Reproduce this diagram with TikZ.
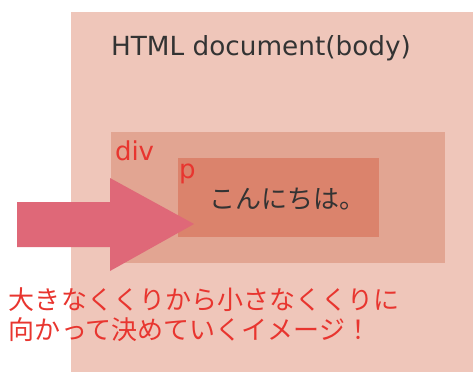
\documentclass[tikz,border=0pt]{standalone}
\usepackage{fontspec}
\setmainfont{DejaVu Sans}
\newfontfamily\cjk{Noto Sans CJK JP}
\usepackage{xcolor}
\definecolor{bodyfill}{HTML}{EFC6BA}
\definecolor{divfill}{HTML}{E2A592}
\definecolor{pfill}{HTML}{DB836C}
\definecolor{arrowfill}{HTML}{DF6878}
\definecolor{tagred}{HTML}{E8352F}
\definecolor{inktext}{HTML}{333333}

\begin{document}
\begin{tikzpicture}[
  x=1pt,y=-1pt,
  every node/.style={inner sep=0pt,outer sep=0pt},
  boxarea/.style={anchor=north west,minimum width=#1},
  tag/.style={text=tagred,font=\fontsize{26}{30}\selectfont,anchor=base west},
  note/.style={text=tagred,font=\cjk\fontsize{26}{30}\selectfont,align=left,anchor=west}
]
\useasboundingbox (0,0) rectangle (473,372);
% nested boxes
\node[boxarea=402pt,minimum height=360pt,fill=bodyfill] (body) at (71,12) {};
\node[boxarea=334pt,minimum height=131pt,fill=divfill] (div) at (111,132) {};
\node[boxarea=201pt,minimum height=79pt,fill=pfill] (p) at (178,158) {};

\node[text=inktext,font=\fontsize{26.3}{30}\selectfont,anchor=base] (bodytitle) at (261,55) {HTML document(body)};
\node[tag] (divtag) at (115,160) {div};
\node[tag] (ptag) at (179,178) {p};
\node[text=inktext,font=\cjk\fontsize{26}{30}\selectfont] (hello) at (287,199) {こんにちは。};

% big arrow
\fill[arrowfill] (17,202) -- (110,202) -- (110,178) -- (194,224) -- (110,271) -- (110,247) -- (17,247) -- cycle;

\node[note] (memo) at (9,315) {大きなくくりから小さなくくりに\\向かって決めていくイメージ！};
\end{tikzpicture}
\end{document}
